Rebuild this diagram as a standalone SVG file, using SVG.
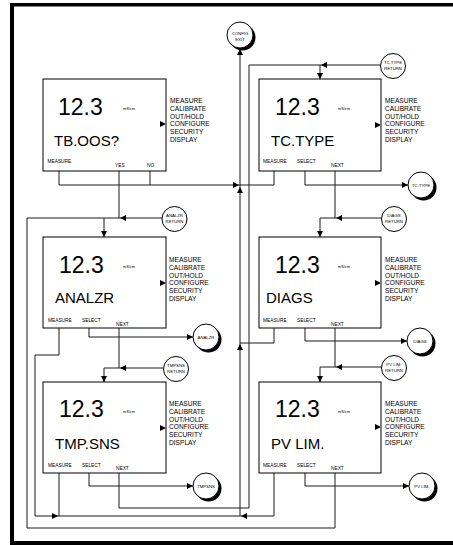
<svg xmlns="http://www.w3.org/2000/svg" width="453" height="545" viewBox="0 0 453 545">
<style>
text{font-family:"Liberation Sans",Arial,sans-serif;fill:#000}
.box{fill:#fff;stroke:#000;stroke-width:1}
.num{font-size:23px}
.unit{font-size:3.8px}
.name{font-size:15px}
.lbl{font-size:4.8px}
.menu{font-size:6.6px}
.cl{font-size:4.3px;text-anchor:middle}
.ln{fill:none;stroke:#1a1a1a;stroke-width:1}
.rc{fill:#fff;stroke:#000;stroke-width:1}
.sh{fill:#000}
</style>
<defs>
<path id="ah" d="M0,0 L-6,-3 L-6,3 Z" fill="#000"/>
<path id="ma" d="M0,0 L-6,-3 L-6,3 Z" fill="#000"/>
</defs>
<rect x="10" y="3" width="443" height="3.5" fill="#000"/>
<rect x="10" y="3" width="4" height="542" fill="#000"/>
<rect x="10" y="541" width="443" height="4" fill="#000"/>

<g id="connectors">
<path class="ln" d="M59,171 V185 M150,171 V185 M59,185 H274 M274,171 V185"/>
<path class="ln" d="M119,171 V218 M27,218 H162 M104,218 V237"/>
<path class="ln" d="M27,218 V528 H335 V473"/>
<path class="ln" d="M59,328 V355 H35 V516 H274 V473"/>
<path class="ln" d="M89,328 V337 H193 M119,328 V368"/>
<path class="ln" d="M104,382 V368 H163"/>
<path class="ln" d="M59,473 V516 M89,473 V486 H193"/>
<path class="ln" d="M119,473 V508 H249 V65 H380 M320,65 V79"/>
<path class="ln" d="M240,49 V516"/>
<path class="ln" d="M274,328 V343 H240"/>
<path class="ln" d="M305,171 V185 H408 M335,171 V218"/>
<path class="ln" d="M320,237 V218 H381"/>
<path class="ln" d="M305,328 V341 H407 M335,328 V367"/>
<path class="ln" d="M320,382 V367 H381"/>
<path class="ln" d="M305,473 V486 H409"/>
<use href="#ah" transform="translate(240,49) rotate(-90)"/>
<use href="#ah" transform="translate(239,185)"/>
<use href="#ah" transform="translate(240,187) rotate(-90)"/>
<use href="#ah" transform="translate(240,344) rotate(-90)"/>
<use href="#ah" transform="translate(58,516)"/>
<use href="#ah" transform="translate(241,516) rotate(180)"/>
<use href="#ah" transform="translate(321,65) rotate(180)"/>
<use href="#ah" transform="translate(320,79) rotate(90)"/>
<use href="#ah" transform="translate(120,218) rotate(180)"/>
<use href="#ah" transform="translate(104,237) rotate(90)"/>
<use href="#ah" transform="translate(120,368) rotate(180)"/>
<use href="#ah" transform="translate(104,382) rotate(90)"/>
<use href="#ah" transform="translate(336,218) rotate(180)"/>
<use href="#ah" transform="translate(320,237) rotate(90)"/>
<use href="#ah" transform="translate(336,367) rotate(180)"/>
<use href="#ah" transform="translate(320,382) rotate(90)"/>
<use href="#ah" transform="translate(193,337)"/>
<use href="#ah" transform="translate(193,486)"/>
<use href="#ah" transform="translate(408,185)"/>
<use href="#ah" transform="translate(407,341)"/>
<use href="#ah" transform="translate(409,486)"/>
</g>

<g id="tboos">
<rect class="box" x="43" y="79" width="123" height="92"/>
<text class="num" x="58" y="114.5">12.3</text>
<text class="unit" x="123" y="110">mS/cm</text>
<text class="name" x="54" y="146" font-size="16.5">TB.OOS?</text>
<text class="lbl" x="47.5" y="163">MEASURE</text>
<text class="lbl" x="115" y="167">YES</text>
<text class="lbl" x="147" y="167">NO</text>
<text class="menu" x="170" y="103">MEASURE</text>
<text class="menu" x="170" y="110.8">CALIBRATE</text>
<text class="menu" x="170" y="118.6">OUT/HOLD</text>
<text class="menu" x="170" y="126.4">CONFIGURE</text>
<text class="menu" x="170" y="134.2">SECURITY</text>
<text class="menu" x="170" y="142">DISPLAY</text>
<use href="#ma" transform="translate(166,124)"/>
</g>

<g id="tctype">
<rect class="box" x="259" y="79" width="122" height="92"/>
<text class="num" x="275" y="114.5">12.3</text>
<text class="unit" x="338" y="110">mS/cm</text>
<text class="name" x="271" y="146">TC.TYPE</text>
<text class="lbl" x="263" y="163">MEASURE</text>
<text class="lbl" x="297" y="163">SELECT</text>
<text class="lbl" x="331" y="167">NEXT</text>
<text class="menu" x="385" y="103">MEASURE</text>
<text class="menu" x="385" y="110.8">CALIBRATE</text>
<text class="menu" x="385" y="118.6">OUT/HOLD</text>
<text class="menu" x="385" y="126.4">CONFIGURE</text>
<text class="menu" x="385" y="134.2">SECURITY</text>
<text class="menu" x="385" y="142">DISPLAY</text>
<use href="#ma" transform="translate(381,125)"/>
</g>

<g id="analzr">
<rect class="box" x="43" y="237" width="123" height="91"/>
<text class="num" x="59" y="273">12.3</text>
<text class="unit" x="123" y="268">mS/cm</text>
<text class="name" x="55" y="303">ANALZR</text>
<text class="lbl" x="48" y="322">MEASURE</text>
<text class="lbl" x="82" y="322">SELECT</text>
<text class="lbl" x="116" y="326">NEXT</text>
<text class="menu" x="169" y="262">MEASURE</text>
<text class="menu" x="169" y="269.8">CALIBRATE</text>
<text class="menu" x="169" y="277.6">OUT/HOLD</text>
<text class="menu" x="169" y="285.4">CONFIGURE</text>
<text class="menu" x="169" y="293.2">SECURITY</text>
<text class="menu" x="169" y="301">DISPLAY</text>
<use href="#ma" transform="translate(166,283)"/>
</g>

<g id="diags">
<rect class="box" x="259" y="237" width="122" height="91"/>
<text class="num" x="275" y="273">12.3</text>
<text class="unit" x="338" y="268">mS/cm</text>
<text class="name" x="266" y="303">DIAGS</text>
<text class="lbl" x="263" y="322">MEASURE</text>
<text class="lbl" x="297" y="322">SELECT</text>
<text class="lbl" x="331" y="326">NEXT</text>
<text class="menu" x="385" y="262">MEASURE</text>
<text class="menu" x="385" y="269.8">CALIBRATE</text>
<text class="menu" x="385" y="277.6">OUT/HOLD</text>
<text class="menu" x="385" y="285.4">CONFIGURE</text>
<text class="menu" x="385" y="293.2">SECURITY</text>
<text class="menu" x="385" y="301">DISPLAY</text>
<use href="#ma" transform="translate(381,283)"/>
</g>

<g id="tmpsns">
<rect class="box" x="43" y="382" width="123" height="91"/>
<text class="num" x="59" y="417">12.3</text>
<text class="unit" x="123" y="413">mS/cm</text>
<text class="name" x="55" y="449">TMP.SNS</text>
<text class="lbl" x="48" y="467">MEASURE</text>
<text class="lbl" x="82" y="467">SELECT</text>
<text class="lbl" x="116" y="470">NEXT</text>
<text class="menu" x="169" y="406">MEASURE</text>
<text class="menu" x="169" y="413.8">CALIBRATE</text>
<text class="menu" x="169" y="421.6">OUT/HOLD</text>
<text class="menu" x="169" y="429.4">CONFIGURE</text>
<text class="menu" x="169" y="437.2">SECURITY</text>
<text class="menu" x="169" y="445">DISPLAY</text>
<use href="#ma" transform="translate(166,428)"/>
</g>

<g id="pvlim">
<rect class="box" x="259" y="382" width="122" height="91"/>
<text class="num" x="275" y="417">12.3</text>
<text class="unit" x="338" y="413">mS/cm</text>
<text class="name" x="271" y="449">PV LIM.</text>
<text class="lbl" x="263" y="467">MEASURE</text>
<text class="lbl" x="297" y="467">SELECT</text>
<text class="lbl" x="331" y="470">NEXT</text>
<text class="menu" x="385" y="406">MEASURE</text>
<text class="menu" x="385" y="413.8">CALIBRATE</text>
<text class="menu" x="385" y="421.6">OUT/HOLD</text>
<text class="menu" x="385" y="429.4">CONFIGURE</text>
<text class="menu" x="385" y="437.2">SECURITY</text>
<text class="menu" x="385" y="445">DISPLAY</text>
<use href="#ma" transform="translate(381,427)"/>
</g>

<g id="config-exit">
<circle class="sh" cx="242.5" cy="37.5" r="13"/>
<circle class="rc" cx="240" cy="35" r="13"/>
<text class="cl" x="240" y="34.5">CONFIG</text>
<text class="cl" x="240" y="40.5">EXIT</text>
</g>
<g id="tctype-circle">
<circle class="sh" cx="423.5" cy="187.5" r="13"/>
<circle class="rc" cx="421" cy="185" r="13"/>
<text class="cl" x="421" y="186.5">TC.TYPE</text>
</g>
<g id="analzr-circle">
<circle class="sh" cx="208.5" cy="339.5" r="13"/>
<circle class="rc" cx="206" cy="337" r="13"/>
<text class="cl" x="206" y="338.5">ANALZR</text>
</g>
<g id="diags-circle">
<circle class="sh" cx="422.5" cy="343.5" r="13"/>
<circle class="rc" cx="420" cy="341" r="13"/>
<text class="cl" x="420" y="342.5">DIAGS</text>
</g>
<g id="tmpsns-circle">
<circle class="sh" cx="208.5" cy="488.5" r="13"/>
<circle class="rc" cx="206" cy="486" r="13"/>
<text class="cl" x="206" y="487.5">TMPSNS</text>
</g>
<g id="pvlim-circle">
<circle class="sh" cx="424.5" cy="488.5" r="13"/>
<circle class="rc" cx="422" cy="486" r="13"/>
<text class="cl" x="422" y="487.5">PV LIM.</text>
</g>

<g id="tctype-return">
<circle class="rc" cx="393" cy="66" r="12.5"/>
<text class="cl" x="393" y="64">TC.TYPE</text>
<text class="cl" x="393" y="70">RETURN</text>
</g>
<g id="analzr-return">
<circle class="rc" cx="174.5" cy="219" r="12.5"/>
<text class="cl" x="174.5" y="217">ANALZR</text>
<text class="cl" x="174.5" y="223">RETURN</text>
</g>
<g id="diags-return">
<circle class="rc" cx="394" cy="219" r="12.5"/>
<text class="cl" x="394" y="217">DIAGS</text>
<text class="cl" x="394" y="223">RETURN</text>
</g>
<g id="tmpsns-return">
<circle class="rc" cx="176" cy="369" r="12.5"/>
<text class="cl" x="176" y="367">TMPSNS</text>
<text class="cl" x="176" y="373">RETURN</text>
</g>
<g id="pvlim-return">
<circle class="rc" cx="394" cy="368" r="12.5"/>
<text class="cl" x="394" y="366">PV LIM.</text>
<text class="cl" x="394" y="372">RETURN</text>
</g>
</svg>
